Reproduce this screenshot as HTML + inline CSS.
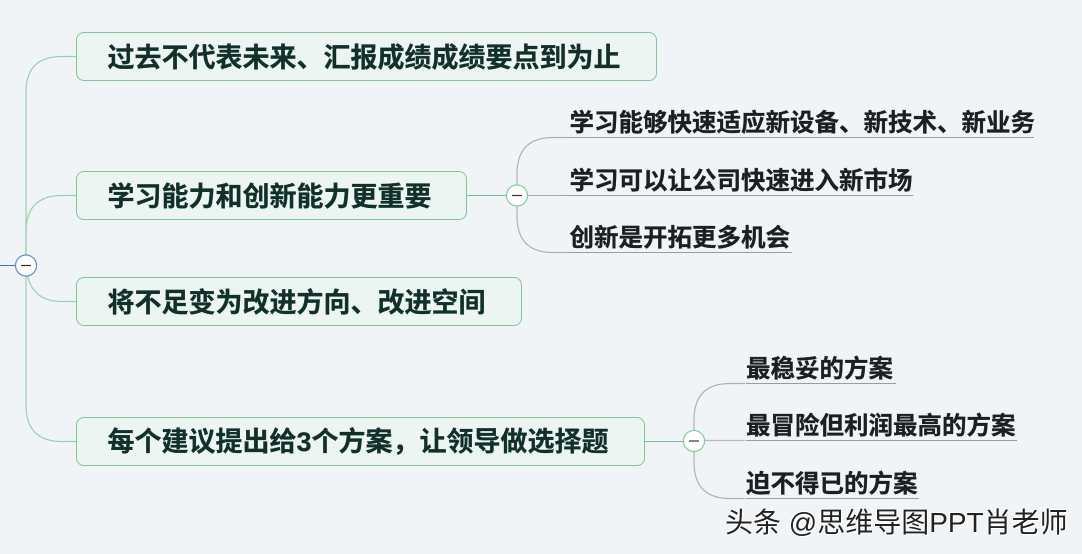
<!DOCTYPE html>
<html><head><meta charset="utf-8">
<style>
html,body{margin:0;padding:0}
body{width:1082px;height:554px;overflow:hidden;background:#f0f4f7;position:relative;font-family:"Liberation Sans","Noto Sans CJK SC",sans-serif}
svg{position:absolute;left:0;top:0}
.b{position:absolute;box-sizing:border-box;height:49px;background:#edf5f2;border:1px solid #7fc698;border-radius:8px}
.t{position:absolute;font-weight:700;white-space:nowrap;line-height:1;color:#1f2a26}
.m{font-size:27px;color:#12302a;-webkit-text-stroke:.3px #12302a}
.s{font-size:24.500px;color:#1c1f22;-webkit-text-stroke:.3px #1c1f22}
.u{position:absolute;height:1px;background:#9a9da0}
</style></head><body>
<svg width="1082" height="554" fill="none">
<path d="M0 265.500H16" stroke="#3f74ad" stroke-width="1"/>
<path d="M76 56.500H62Q26 56.500 26 92V405Q26 441.500 62 441.500H76" stroke="#9bd0ae" stroke-width="1.200"/>
<path d="M76 195.500H62Q26 195.500 26 232V265" stroke="#9bd0ae" stroke-width="1.200"/>
<path d="M26 265Q28 301.500 62 301.500H76" stroke="#9bd0ae" stroke-width="1.200"/>
<path d="M467 195.500H507" stroke="#78c08f"/>
<path d="M644 441.500H684" stroke="#78c08f"/>
<path d="M567 137.500H553Q517 137.500 517 174V195" stroke="#b0b3b5" stroke-width="1.200"/>
<path d="M517 196V216Q517 252.500 553 252.500H567" stroke="#b0b3b5" stroke-width="1.200"/>
<path d="M527 195.500H567" stroke="#a8abad"/>
<path d="M745 383.500H730Q694 383.500 694 420V441" stroke="#b0b3b5" stroke-width="1.200"/>
<path d="M694 441V462Q694 498.500 730 498.500H745" stroke="#b0b3b5" stroke-width="1.200"/>
<path d="M704 440.500H745" stroke="#b5b8ba" stroke-width="1.200"/>
<circle cx="26" cy="265.500" r="10.500" fill="#fff" stroke="#5a8fca" stroke-width="1.200"/>
<path d="M21 265.500H31" stroke="#333" stroke-width="1.200"/>
<circle cx="517" cy="195.500" r="10.500" fill="#fff" stroke="#84cb9c" stroke-width="1.200"/>
<path d="M512 195.500H522" stroke="#333" stroke-width="1.200"/>
<circle cx="694" cy="441" r="10.500" fill="#fff" stroke="#84cb9c" stroke-width="1.200"/>
<path d="M689 441H699" stroke="#333" stroke-width="1.200"/>
</svg>
<div class="b" style="left:76px;top:32px;width:581px"></div>
<div class="b" style="left:76px;top:171px;width:391px"></div>
<div class="b" style="left:76px;top:277px;width:446px"></div>
<div class="b" style="left:76px;top:417px;width:569px"></div>
<div class="t m" style="left:107.500px;top:45px">过去不代表未来、汇报成绩成绩要点到为止</div>
<div class="t m" style="left:107.500px;top:184px">学习能力和创新能力更重要</div>
<div class="t m" style="left:107.500px;top:290px">将不足变为改进方向、改进空间</div>
<div class="t m" style="left:107.500px;top:429px">每个建议提出给3个方案，让领导做选择题</div>
<div class="t s" style="left:569.500px;top:112px">学习能够快速适应新设备、新技术、新业务</div>
<div class="u" style="left:567px;top:137px;width:467px"></div>
<div class="t s" style="left:569.500px;top:170px">学习可以让公司快速进入新市场</div>
<div class="u" style="left:567px;top:195px;width:346px"></div>
<div class="t s" style="left:569.500px;top:227px">创新是开拓更多机会</div>
<div class="u" style="left:567px;top:252px;width:225px"></div>
<div class="t s" style="left:746px;top:358px">最稳妥的方案</div>
<div class="u" style="left:746px;top:383px;width:150px"></div>
<div class="t s" style="left:746px;top:415px">最冒险但利润最高的方案</div>
<div class="u" style="left:746px;top:440px;width:271px"></div>
<div class="t s" style="left:746px;top:473px">迫不得已的方案</div>
<div class="u" style="left:746px;top:498px;width:173px"></div>
<div class="t" style="left:725px;top:509px;font-size:28px;font-weight:400;color:#222;text-shadow:0 0 2px #fff,1px 1px 0 #fff,-1px -1px 0 #fff">头条 @思维导图PPT肖老师</div>
</body></html>
